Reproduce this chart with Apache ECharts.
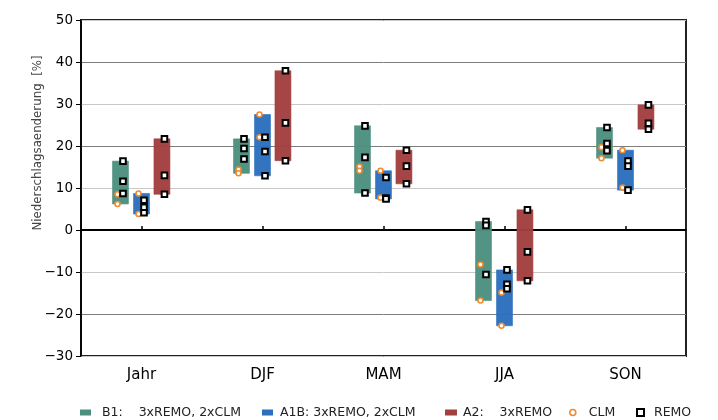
<!DOCTYPE html>
<html>
<head>
<meta charset="utf-8">
<script src="https://cdn.jsdelivr.net/npm/echarts@6/dist/echarts.min.js"></script>
<style>html,body{margin:0;padding:0;background:#fff}#c{width:718px;height:420px}</style>
</head>
<body>
<div id="c"></div>
<script>
// ---- data ----
const categories = ['Jahr', 'DJF', 'MAM', 'JJA', 'SON'];
const scenarioNames = ['B1:    3xREMO, 2xCLM', 'A1B: 3xREMO, 2xCLM', 'A2:    3xREMO'];
const yTicks = [-30, -20, -10, 0, 10, 20, 30, 40, 50];

const b1Remo  = [[16.4, 11.6, 8.7], [21.7, 19.4, 16.9], [24.8, 17.3, 8.8], [2.0, 1.1, -10.6], [24.4, 20.6, 18.9]];
const b1Clm   = [[8.5, 6.2], [14.4, 13.5], [15.1, 14.1], [-8.2, -16.8], [19.7, 17.1]];
const a1bRemo = [[7.1, 5.4, 4.1], [22.1, 18.7, 12.9], [12.5, 7.6, 7.4], [-9.5, -12.9, -14.0], [16.4, 15.2, 9.5]];
const a1bClm  = [[8.7, 3.8], [27.5, 22.1], [14.1, 7.7], [-14.9, -22.8], [19.0, 10.1]];
const a2Remo  = [[21.7, 13.0, 8.5], [37.9, 25.5, 16.5], [19.0, 15.2, 11.0], [4.8, -5.2, -12.1], [29.8, 25.4, 24.0]];
const a2Clm   = [[], [], [], [], []];

// ---- styling constants ----
const remoByScen = [b1Remo, a1bRemo, a2Remo];
const clmByScen = [b1Clm, a1bClm, a2Clm];
const scenColors = ['#4d9080', '#2b6fbd', '#a33f3f'];
const OFFSETS = [-0.1736, 0, 0.169];
const BAR_FRAC = 0.132;
const CLM_COLOR = '#f28a2e';
const FONT = 'DejaVu Sans';

// build datasets
const barData = [[], [], []];
const clmData = [];
const remoData = [];
for (let s = 0; s < 3; s++) {
  for (let c = 0; c < categories.length; c++) {
    const vals = remoByScen[s][c].concat(clmByScen[s][c]);
    barData[s].push([c, Math.min(...vals), Math.max(...vals)]);
    clmByScen[s][c].forEach(v => clmData.push([c, s, v]));
    remoByScen[s][c].forEach(v => remoData.push([c, s, v]));
  }
}

function barRender(s) {
  return function (params, api) {
    const c = api.value(0);
    const lo = api.coord([c, api.value(1)]);
    const hi = api.coord([c, api.value(2)]);
    const band = api.size([1, 0])[0];
    const w = band * BAR_FRAC;
    const cx = lo[0] + OFFSETS[s] * band;
    return {
      type: 'rect',
      shape: { x: cx - w / 2, y: hi[1], width: w, height: lo[1] - hi[1] },
      style: { fill: scenColors[s], stroke: scenColors[s], lineWidth: 0.6, opacity: 0.97 }
    };
  };
}

function clmRender(params, api) {
  const pt = api.coord([api.value(0), api.value(2)]);
  const band = api.size([1, 0])[0];
  const cx = pt[0] + OFFSETS[api.value(1)] * band - 3;
  return {
    type: 'circle',
    shape: { cx: cx, cy: pt[1], r: 2.5 },
    style: { fill: '#fff', stroke: CLM_COLOR, lineWidth: 1.6 }
  };
}

function remoRender(params, api) {
  const pt = api.coord([api.value(0), api.value(2)]);
  const band = api.size([1, 0])[0];
  const cx = pt[0] + OFFSETS[api.value(1)] * band + 2.5;
  const sz = 5.6;
  return {
    type: 'rect',
    shape: { x: cx - sz / 2, y: pt[1] - sz / 2, width: sz, height: sz },
    style: { fill: '#fff', stroke: '#000', lineWidth: 2 }
  };
}

const series = [];
series.push({
  type: 'line', data: [], silent: true,
  markLine: {
    silent: true, symbol: 'none', z: 1,
    label: { show: false },
    lineStyle: { color: '#000', width: 2, type: 'solid' },
    data: [{ yAxis: 0 }]
  }
});
for (let s = 0; s < 3; s++) {
  series.push({
    type: 'custom', name: scenarioNames[s], z: 10,
    renderItem: barRender(s),
    itemStyle: { color: scenColors[s] },
    dimensions: ['cat', 'lo', 'hi'],
    encode: { x: 'cat', y: ['lo', 'hi'] },
    data: barData[s]
  });
}
series.push({
  type: 'custom', name: 'CLM', z: 11,
  renderItem: clmRender,
  itemStyle: { color: CLM_COLOR },
  dimensions: ['cat', 'scen', 'val'],
  encode: { x: 'cat', y: 'val' },
  data: clmData
});
series.push({
  type: 'custom', name: 'REMO', z: 12,
  renderItem: remoRender,
  itemStyle: { color: '#000' },
  dimensions: ['cat', 'scen', 'val'],
  encode: { x: 'cat', y: 'val' },
  data: remoData
});

const legendBase = {
  top: 406, selectedMode: false, orient: 'horizontal', padding: 0,
  itemWidth: 11, itemHeight: 6
};
function lg(left, item, w, h, pad) {
  return Object.assign({}, legendBase, {
    left: left, itemWidth: w, itemHeight: h,
    textStyle: { fontFamily: FONT, fontSize: 12.5, color: '#222', padding: [0, 0, 0, pad] },
    data: [item]
  });
}

const option = {
  animation: false,
  textStyle: { fontFamily: FONT },
  grid: {
    left: 81, right: 32, top: 20, bottom: 64,
    show: true, borderColor: '#222', borderWidth: 2, backgroundColor: 'transparent'
  },
  xAxis: {
    type: 'category', data: categories, boundaryGap: true,
    axisLine: { show: true, lineStyle: { color: '#000', width: 1.5 } },
    axisTick: { show: true, inside: true, alignWithLabel: true, length: 4, lineStyle: { color: '#000', width: 1.5 } },
    axisLabel: { fontSize: 15, color: '#000', margin: 12, fontFamily: FONT },
    splitLine: { show: false }
  },
  yAxis: {
    type: 'value', min: yTicks[0], max: yTicks[yTicks.length - 1], interval: 10,
    axisLine: { show: true, lineStyle: { color: '#000', width: 1.5 } },
    axisTick: { show: true, inside: false, length: 5, lineStyle: { color: '#000', width: 1 } },
    axisLabel: {
      fontSize: 13.5, color: '#000', margin: 8, fontFamily: FONT,
      formatter: v => String(v).replace('-', '\u2212')
    },
    splitLine: { show: true, lineStyle: { color: ['#c8c8c8', '#7d7d7d'], width: 1 } }
  },
  legend: [
    lg(80, { name: scenarioNames[0], icon: 'rect', itemStyle: { color: scenColors[0] } }, 11, 6, 6),
    lg(262, { name: scenarioNames[1], icon: 'rect', itemStyle: { color: scenColors[1] } }, 11, 6, 2),
    lg(445, { name: scenarioNames[2], icon: 'rect', itemStyle: { color: scenColors[2] } }, 12, 6, 1),
    lg(569, { name: 'CLM', icon: 'circle', itemStyle: { color: '#fff', borderColor: CLM_COLOR, borderWidth: 1.6 } }, 6, 6, 8),
    lg(636, { name: 'REMO', icon: 'rect', itemStyle: { color: '#fff', borderColor: '#000', borderWidth: 2 } }, 7, 7, 5)
  ],
  graphic: [{
    type: 'text', x: 38, y: 143, rotation: Math.PI / 2,
    style: {
      text: 'Niederschlagsaenderung  [%]', fontSize: 11.8, fontFamily: FONT,
      fill: '#444', align: 'center', verticalAlign: 'middle'
    }
  }],
  series: series
};

const chart = echarts.init(document.getElementById('c'), null, { renderer: 'canvas' });
chart.setOption(option);
</script>
</body>
</html>
